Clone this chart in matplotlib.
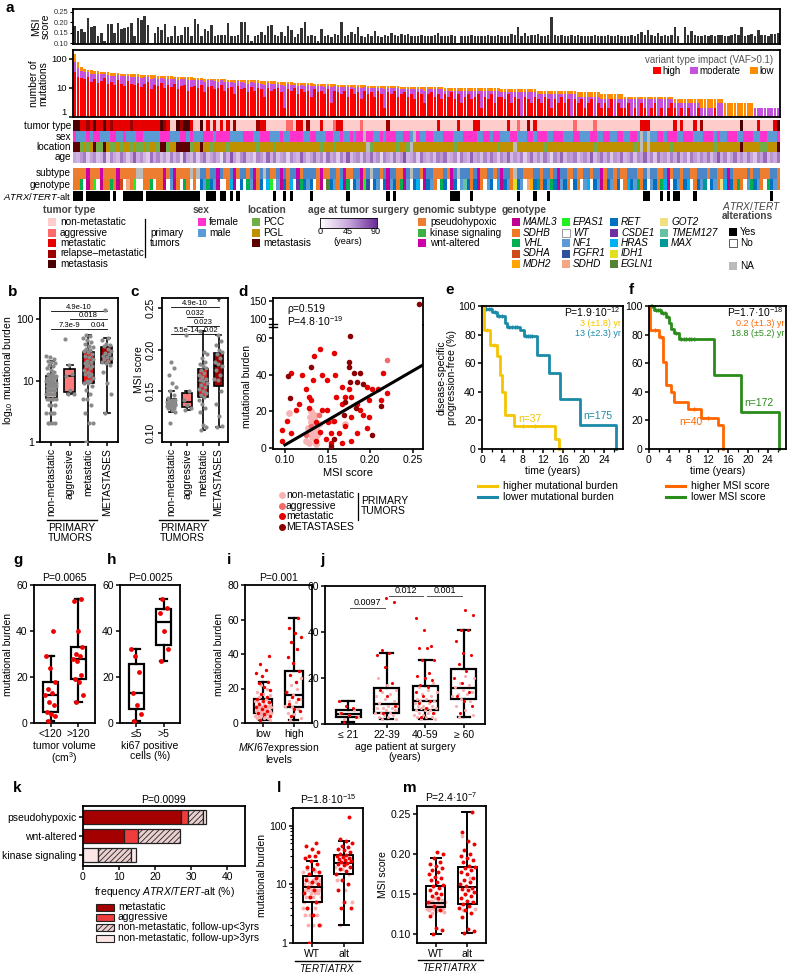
import numpy as np
import matplotlib
matplotlib.use('Agg')
import matplotlib.pyplot as plt
from matplotlib.patches import Rectangle
from matplotlib.lines import Line2D
from matplotlib.colors import LinearSegmentedColormap

plt.rcParams['font.family'] = ['Liberation Sans', 'DejaVu Sans']
plt.rcParams['mathtext.fontset'] = 'custom'
plt.rcParams['mathtext.rm'] = 'Liberation Sans'
plt.rcParams['mathtext.it'] = 'Liberation Sans:italic'
plt.rcParams['mathtext.bf'] = 'Liberation Sans:bold'
plt.rcParams['axes.linewidth'] = 1.3
plt.rcParams['xtick.major.width'] = 1.1
plt.rcParams['ytick.major.width'] = 1.1
plt.rcParams['xtick.major.size'] = 3
plt.rcParams['ytick.major.size'] = 3
plt.rcParams['xtick.major.pad'] = 1.5
plt.rcParams['ytick.major.pad'] = 1.5
plt.rcParams['hatch.linewidth'] = 0.6

# ------------------------------------------------------------------ data
# panel a (212 tumours, sorted by number of mutations)
msi_milli = [183,160,166,153,218,178,183,136,150,112, 193,192,148,198,167,173,178,196,135,218,
             210,228,187,101,149,176,165,193,132,136, 180,136,138,178,178,137,214,189,135,170,
             160,186,135,140,140,141,196,133,135,138, 203,199,140,110,136,140,155,138,182,188,
             138,135,152,135,182,165,128,145,172,200, 136,138,135,110,170,135,138,130,145,138,
             200,135,138,152,142,178,135,130,145,135, 158,137,132,140,136,150,138,135,143,138,
             145,133,136,134,138,135,137,133,139,150, 137,136,135,138,134,103,136,137,135,138,
             136,134,137,135,139,136,133,138,135,137, 136,142,138,175,137,150,136,138,140,145,
             137,135,138,222,140,136,138,135,137,139, 136,138,135,137,134,136,138,137,135,136,
             138,135,137,139,136,135,137,138,136,145, 155,140,165,138,135,150,137,140,136,138,
             175,136,102,175,138,160,140,137,136,138, 137,139,136,138,140,137,136,138,145,139,
             175,137,140,142,135,165,140,138,137,142, 145,150]
mut_high = [35,24,22,20,24,16,21,15,17,22, 14,16,13,18,14,12,17,14,13,15, 11,14,16,9,13,12,15,10,13,11,
            14,9,12,13,8,11,12,10,13,7, 11,12,9,10,13,8,10,11,6,12, 9,10,7,11,8,10,9,5,10,8,
            9,10,7,2,9,8,10,6,9,7, 8,5,9,7,8,6,9,3,8,7, 6,8,5,9,6,7,4,8,6,7, 5,8,6,2,7,6,8,5,6,7,
            5,6,4,7,6,3,6,7,5,6, 4,6,5,7,4,6,3,5,6,4, 5,6,2,5,4,6,3,5,5,4, 6,3,5,4,1,5,4,3,5,4,
            3,5,4,2,4,3,5,3,4,0, 4,3,4,2,3,4,0,3,2,3, 2,4,1,3,2,2,3,1,2,0, 3,2,0,2,3,1,2,0,2,3,
            2,1,2,0,2,0,1,2,0,0, 1,0,2,0,1,0,0,0,0,0, 0,0,0,0,0,0,0,0,0,0, 0,0]
mut_moderate = [44,26,16,15,10,14,10,14,12,8, 13,10,12,9,11,13,8,10,10,9, 11,9,7,12,9,9,7,10,8,9,
                6,10,8,7,10,8,7,8,6,9, 7,6,8,6,5,8,6,5,9,5, 7,5,7,5,7,5,5,8,5,6,
                5,4,6,10,5,5,3,6,4,5, 5,7,3,5,4,5,3,8,4,4, 5,3,6,2,4,4,6,3,4,3, 5,2,4,7,3,4,2,5,3,2,
                4,3,5,2,3,5,3,2,4,3, 5,2,3,1,4,2,5,3,2,4, 3,2,6,3,4,2,5,3,2,3, 1,4,2,3,6,2,3,4,2,2,
                3,1,2,4,2,3,1,3,2,6, 2,2,1,3,2,1,5,2,2,1, 2,0,3,1,2,2,1,3,2,4, 1,2,4,2,1,3,2,4,2,1,
                1,2,1,3,1,3,2,1,2,2, 1,2,0,3,2,0,0,0,0,0, 1,0,0,0,2,2,2,2,2,2, 2,2]
mut_low = [62,29,15,10,8,10,7,8,7,5, 7,7,8,5,6,6,5,6,6,5, 6,5,4,6,5,5,4,5,4,5, 4,5,4,3,5,4,3,4,3,5,
           3,3,3,4,2,4,3,3,4,2, 3,3,4,2,3,3,3,4,2,3, 3,2,3,4,2,3,2,3,2,3, 2,3,2,2,2,3,2,3,2,2,
           2,2,2,2,3,2,3,2,2,2, 2,2,2,3,2,2,2,2,2,2, 2,2,2,2,2,3,2,2,2,2, 2,2,2,2,2,2,2,2,2,2,
           2,2,2,2,2,2,2,2,2,2, 2,2,2,2,2,2,2,2,2,2, 2,2,2,2,2,2,2,2,2,2, 2,2,2,2,2,2,2,2,2,2,
           2,2,2,2,2,1,1,1,1,1, 1,1,1,1,1,1,1,1,1,1, 1,1,1,1,1,1,1,1,2,2, 2,2,2,1,1,3,3,3,3,3,
           2,3,3,3,0,0,0,0,0,0, 0,0]
tumor_type = ("4422324224 2322222322 2222224320 0434420040 2020202030 0000032200 0000110220 "
              "3000200012 2000001000 0000300000 0000000002 0000020000 2200000000 2001003020 "
              "0000000000 1000001000 0000000000 2220000000 2020002030 0000000000 4000020000 24")
sex = ("0111010011 1001101110 0111110001 1100101110 0010000111 1000110001 1101100001 "
       "1001110011 0110100200 1101000110 0120110011 1000111000 0110010011 1001110010 "
       "0011000111 0011100110 0110011001 2121100100 0110001110 0010110001 1000110011 10")
location = ("2201012002 1001011010 0101102201 1222201121 1011110111 1111101111 0111111111 "
            "1111011101 1111111130 1111111011 0311111111 1111011111 1111111011 1131111111 "
            "1011111111 1111110111 1111111101 3131111110 1111111111 1101111111 2111110011 12")
age_years = [45,38,52,61,29,47,55,33,40,68, 25,57,44,36,63,50,31,48,72,42, 54,39,27,66,45,58,35,49,30,60,
             41,53,22,70,46,37,59,28,51,64, 34,47,56,43,19,62,40,75,48,31, 55,67,38,44,26,58,50,35,69,42,
             61,33,47,53,24,57,45,39,71,50, 36,48,63,42,56,30,65,44,52,28, 59,41,73,37,49,55,32,60,46,67,
             43,54,21,58,47,35,62,40,51,76, 38,45,57,29,64,48,41,53,34,60, 50,66,37,44,55,26,61,47,39,70,
             46,52,33,58,42,63,49,30,56,45, 68,36,51,43,59,27,48,65,40,54, 35,62,47,23,57,44,69,38,53,49,
             60,32,46,55,41,72,37,50,64,43, 58,29,52,45,66,39,47,61,34,55, 48,70,42,57,31,63,46,51,36,59,
             44,67,40,53,28,61,49,38,56,45, 62,35,50,74,43,58,33,47,65,41, 54,39,60,46,30,57,48,68,37,52,
             44,63]
subtype = ("0000200020 0002000003 3000000201 2000030311 0112100120 1101201310 0121011201 "
           "1110200110 1200112013 1101211002 1311021100 0102131110 1200110121 1031100011 "
           "0110121100 1001101120 1101001110 0131100120 1101100111 0110012100 0010110001 10")
genotype = ("bbcwabfwab bcbadwhbfw wbbcwbbawn abwcbwbwrn crnawwbkaw rwcnabrwkf wnarbkwscr "
            "nrwbawlrnb kacwrnafgw rnwranrbca nwrkwarnbw crwarwntrb rabwnrwkar nbirnwherx "
            "brncranrbw rbwnkwrnab rnbrwbkrnc brwnrbckaw rnbrkwbrnx wrnbokarbc bwncrnbwcr nb")
atrx_tert = ("1110111111 1010011111 1011111111 1111111100 1110110101 0000000000 1001010000 "
             "0100000000 0010000000 0000101000 0000000000 0001110001 0000000000 0001000010 "
             "0010000000 0000000000 0000000000 0110001010 1100001000 0000000000 0000000001 00")

# panel b/c  (mutational burden, MSI score per group)
grp_labels = ['non-metastatic', 'aggressive', 'metastatic', 'METASTASES']
b_nonmet = [2,2,2,2,3,3,3,3,4,4,4,5,5,5,5,5,6,6,6,6,6,7,7,7,7,7,7,8,8,8,8,8,8,8,9,9,9,9,9,10,10,10,10,
            11,11,11,12,12,12,13,13,14,15,16,17,18,19,20,21,22,24,25]
b_aggr = [6,6,7,12,13,18,47]
b_met = [1,2,2,3,4,5,5,6,7,8,9,9,10,10,11,12,13,13,14,15,16,17,17,18,19,20,21,22,24,25,27,29,30,31,33,
         35,37,40,43,45,50,53,55]
b_mets = [3,6,9,14,18,19,20,21,22,23,24,25,27,28,30,33,36,38,40,45,50,140]
c_nonmet = [0.112,0.125,0.128,0.13,0.13,0.131,0.132,0.132,0.133,0.133,0.134,0.134,0.135,0.135,0.135,
            0.135,0.136,0.136,0.137,0.137,0.138,0.138,0.139,0.14,0.142,0.145,0.15,0.155,0.16,0.17,0.178,0.185]
c_aggr = [0.128,0.13,0.133,0.14,0.15,0.218]
c_met = [0.103,0.107,0.11,0.125,0.13,0.135,0.14,0.143,0.145,0.148,0.15,0.153,0.155,0.158,0.16,0.162,
         0.163,0.165,0.167,0.17,0.172,0.175,0.178,0.18,0.183,0.185,0.19,0.195,0.197,0.222]
c_mets = [0.107,0.108,0.12,0.135,0.15,0.163,0.165,0.17,0.175,0.18,0.183,0.185,0.19,0.195,0.197,0.2,
          0.205,0.21,0.218]

# panel d (MSI score vs mutational burden)
d_nonmet_x = [0.125,0.128,0.13,0.13,0.132,0.133,0.134,0.135,0.135,0.136,0.137,0.138,0.14,0.128,0.131,
              0.133,0.136,0.139,0.127,0.134,0.105,0.17,0.129,0.132]
d_nonmet_y = [4,8,10,14,6,12,16,5,18,9,11,7,13,3,20,15,2,8,11,6,19,13,17,9]
d_aggr_x = [0.125,0.13,0.14,0.22,0.155]
d_aggr_y = [7,12,18,48,15]
d_met_x = [0.141,0.157,0.134,0.107,0.120,0.144,0.125,0.128,0.117,0.102,0.107,0.097,0.096,0.136,0.148,
           0.149,0.151,0.164,0.160,0.167,0.171,0.175,0.178,0.185,0.188,0.196,0.202,0.209,0.215,0.157,
           0.171,0.178,0.185,0.167,0.136,0.141,0.144,0.149,0.159,0.196,0.192,0.220,0.213,0.199,0.167,
           0.178,0.199,0.154,0.133,0.131,0.128,0.113,0.154]
d_met_y = [54,52,50,41,40,40,32,28,24,15,8,4,10,4,5,21,14,8,28,33,28,32,28,24,21,33,32,32,41,15,
           12,4,8,3,14,9,21,37,40,11,18,30,26,26,24,17,17,3,37,26,22,21,8]
d_mets_x = [0.104,0.106,0.131,0.175,0.175,0.181,0.188,0.176,0.171,0.169,0.183,0.185,0.154,0.157,0.192,
            0.202,0.213,0.176,0.257]
d_mets_y = [39,27,44,47,44,41,41,61,25,18,22,36,1,5,35,7,23,36,140]
d_fit_slope, d_fit_intercept = 269.0, -25.2   # regression line

# panels e/f (Kaplan-Meier)
e_hi_t = [0, 0.3, 1.6, 2.9, 3.5, 3.9, 4.6, 6.2, 14.4, 15.2]
e_hi_s = [100, 83, 73, 65, 52, 40, 24, 16, 7, 0]
e_lo_t = [0, 0.5, 2.0, 3.0, 4.5, 5.0, 7.5, 8.2, 10.8, 13.1, 15.4, 19.3, 26.3]
e_lo_s = [100, 98, 96, 93, 88, 85, 83, 79, 66, 53, 35, 17, 0]
e_hi_cens = [1.0, 2.4, 8.0, 10.5]
e_lo_cens = [0.8, 1.3, 1.7, 2.5, 3.4, 3.9, 5.4, 5.9, 6.4, 6.9, 8.6, 9.0, 9.4, 9.8]
f_hi_t = [0, 0.3, 2.0, 2.8, 3.4, 4.4, 5.0, 7.9, 10.5, 14.0, 15.0]
f_hi_s = [100, 83, 78, 61, 45, 40, 33, 28, 22, 17, 0]
f_lo_t = [0, 1.0, 2.5, 3.5, 4.0, 4.5, 5.0, 6.0, 13.2, 18.7, 26.3]
f_lo_s = [100, 97, 95, 92, 88, 84, 81, 77, 52, 26, 0]
f_hi_cens = [1.2, 2.4, 9.0, 12.0]
f_lo_cens = [0.4, 0.7, 1.4, 1.8, 2.2, 2.9, 3.2, 3.8, 5.5, 6.5, 7.0, 7.5, 8.0, 8.5, 9.0]

# panels g/h
g_lo = [1,3,4,5,8,9,12,13,15,18,24,29,40]
g_hi = [9,12,18,19,21,27,28,29,30,33,40,53,54]
h_lo = [1,4,8,13,22,29,32]
h_hi = [27,32,40,48,50,54]
# panel i
i_low_pink = [2,2,3,3,3,4,4,4,4,5,5,5,5,6,6,6,6,6,7,7,7,7,7,8,8,8,8,9,9,9,9,9,10,10,10,11,11,12,12,13,
              13,14,15,16,17,18,20,22]
i_low_red = [2,4,5,6,7,8,9,10,11,12,13,14,15,17,19,21,23,24,27,29,31,34,39]
i_high_pink = [2,3,5,6,8,9,10,12,13,14,16,18,20,22,26]
i_high_red = [4,7,8,11,14,15,18,24,28,30,35,38,43,47,50,52,55,61]
# panel j
j_pink = [[2,3,4,5,6],
          [2,2,3,3,4,4,5,5,5,6,6,7,7,7,8,8,9,10,11,12,13,14,15,17,20],
          [2,2,3,3,3,4,4,5,5,5,6,6,6,7,7,7,8,8,8,9,9,10,10,11,11,12,13,14,15,16,18],
          [3,4,6,8,10,11,12,13,13,14,15,16,17,18,20,21]]
j_red = [[1,3,4,5,7,8,10],
         [5,8,12,15,18,25,30,31,32,53,55],
         [3,5,7,9,10,12,14,16,17,19,20,21,22,28,28,33,33,34,41,46],
         [5,8,10,12,14,18,20,23,26,30,31,36,41,41,47.5,49.5]]
j_labels = ['≤ 21', '22-39', '40-59', '≥ 60']
# panel k
k_cats = ['pseudohypoxic', 'wnt-altered', 'kinase signaling']
k_segments = [[('met', 27.3), ('aggr', 2.0), ('lt3', 4.0), ('gt3', 1.0)],
              [('met', 11.3), ('aggr', 4.0), ('lt3', 11.7)],
              [('gt3', 4.3), ('lt3', 9.0), ('gt3', 1.4)]]
# panel l
l_wt_pink = [2,2,2,3,3,3,4,4,4,5,5,5,5,6,6,6,6,7,7,7,7,8,8,8,8,8,9,9,9,9,10,10,10,11,11,12,12,13,14,15,16,17,18]
l_wt_red = [1,2,3,4,5,6,7,8,9,10,11,12,13,15,16,18,20,22,25,28,30,30,35,40,45,50]
l_alt_pink = [2,5,8,12,15,18,20,22,25,28]
l_alt_red = [4,4,5,8,10,12,15,17,18,20,21,22,23,24,25,26,27,28,29,30,32,33,35,38,40,43,45,50,55,60,140]
# panel m
m_wt_pink = [0.127,0.128,0.129,0.13,0.13,0.131,0.132,0.132,0.133,0.133,0.134,0.134,0.135,0.135,0.135,0.136,
             0.136,0.136,0.137,0.137,0.137,0.138,0.138,0.138,0.139,0.139,0.14,0.14,0.141,0.142,0.143,0.145]
m_wt_red = [0.10,0.105,0.108,0.123,0.13,0.135,0.14,0.145,0.148,0.15,0.152,0.155,0.158,0.16,0.162,0.165,
            0.168,0.17,0.172,0.175,0.178,0.18,0.182,0.185,0.187,0.19,0.195,0.2,0.203]
m_alt_pink = [0.13,0.132,0.135,0.138,0.14,0.15,0.16,0.17,0.222]
m_alt_red = [0.102,0.104,0.107,0.122,0.127,0.13,0.133,0.135,0.138,0.14,0.142,0.145,0.148,0.15,0.153,0.155,
             0.156,0.158,0.16,0.163,0.165,0.168,0.17,0.175,0.178,0.18,0.182,0.184,0.185,0.19,0.192,0.195,
             0.198,0.2,0.205,0.212,0.216,0.228,0.253]

# ------------------------------------------------------------------ styles
TT_COL = ['#FFCCCC', '#FF6B6B', '#E60000', '#9E0000', '#4A0000']
SEX_COL = ['#FF33CC', '#5B9BD5', '#BBBBBB']
LOC_COL = ['#70AD47', '#BF9000', '#5C0000', '#BBBBBB']
SUB_COL = ['#ED7D31', '#4A86C8', '#CC00AA', '#BBBBBB']
GENO = {'a': ('MAML3', '#C0008F'), 'b': ('SDHB', '#F07A24'), 'c': ('VHL', '#00B050'),
        'd': ('SDHA', '#CF4A1A'), 'e': ('MDH2', '#FFA500'), 'f': ('EPAS1', '#22EE22'),
        'w': ('WT', '#FFFFFF'), 'n': ('NF1', '#5B9BD5'), 'g': ('FGFR1', '#2F4F9F'),
        'h': ('SDHD', '#F4A582'), 'r': ('RET', '#0070C0'), 's': ('CSDE1', '#7030A0'),
        'k': ('HRAS', '#00B0F0'), 'i': ('IDH1', '#E0E020'), 'l': ('EGLN1', '#548235'),
        'o': ('GOT2', '#F0E080'), 't': ('TMEM127', '#66C2A5'), 'x': ('MAX', '#009999')}
HIGH, MOD, LOW = '#FF0000', '#C452DC', '#FF8C00'

W, H = 792, 974
fig = plt.figure(figsize=(W / 100, H / 100), dpi=100)


def axpx(x0, y0, x1, y1):
    return fig.add_axes([x0 / W, 1 - y1 / H, (x1 - x0) / W, (y1 - y0) / H])


def T(x, y, s, **kw):
    kw.setdefault('va', 'center')
    kw.setdefault('fontsize', 7)
    return fig.text(x / W, 1 - y / H, s, **kw)


def R(x, y, w, h, fc, ec='none', lw=0.6, hatch=None):
    fig.add_artist(Rectangle((x / W, 1 - (y + h) / H), w / W, h / H, transform=fig.transFigure,
                             facecolor=fc, edgecolor=ec, lw=lw, hatch=hatch))


def L(xs, ys, **kw):
    fig.add_artist(Line2D([x / W for x in xs], [1 - y / H for y in ys], transform=fig.transFigure, **kw))


def jit(n, w):
    return ((np.arange(n) * 0.618034 + 0.3) % 1.0 - 0.5) * w


def boxes(ax, groups, pos, fcs, width, lw=1.2):
    bp = ax.boxplot(groups, positions=pos, widths=width, patch_artist=True, showfliers=False,
                    medianprops=dict(color='k', lw=lw), boxprops=dict(lw=lw, color='k'),
                    whiskerprops=dict(lw=lw, color='k'), capprops=dict(lw=lw, color='k'),
                    manage_ticks=False)
    for p, c in zip(bp['boxes'], fcs):
        p.set_facecolor(c)
        p.set_zorder(2)
    return bp


def codes(s):
    return list(s.replace(' ', ''))


# ------------------------------------------------------------------ panel a
msi_score = np.array(msi_milli) / 1000.0
N = len(msi_score)
idx = np.arange(N)
tt = [int(c) for c in codes(tumor_type)]
sx = [int(c) for c in codes(sex)]
lc = [int(c) for c in codes(location)]
st = [int(c) for c in codes(subtype)]
gt = codes(genotype)
at = [int(c) for c in codes(atrx_tert)]

T(5, 8, 'a', fontsize=11, fontweight='bold')
ax = axpx(73, 9, 780, 44)
ax.bar(idx, msi_score, width=0.72, color='#333333', linewidth=0)
ax.set_xlim(-0.5, N - 0.5)
ax.set_ylim(0.097, 0.262)
ax.set_yticks([0.10, 0.15, 0.20, 0.25])
ax.set_yticklabels(['0.10', '0.15', '0.20', '0.25'], fontsize=5.5, color='#333')
ax.set_xticks([])
ax.tick_params(axis='y', length=2, width=0.8)
ax.set_ylabel('MSI\nscore', fontsize=7.5, labelpad=2, linespacing=0.9)

ax = axpx(73, 50, 780, 117)
hm = np.array(mut_high) + np.array(mut_moderate)
tot = hm + np.array(mut_low)
ax.bar(idx, tot, width=0.8, color=LOW, linewidth=0)
ax.bar(idx, hm, width=0.8, color=MOD, linewidth=0)
ax.bar(idx, mut_high, width=0.8, color=HIGH, linewidth=0)
ax.set_yscale('log')
ax.set_ylim(1, 200)
ax.set_xlim(-0.5, N - 0.5)
ax.set_xticks([])
ax.set_yticks([1, 10, 100])
ax.set_yticklabels(['1', '10', '100'], fontsize=6.8)
ax.get_yticklabels()[0].set_va('bottom')
ax.minorticks_off()
ax.tick_params(axis='x', which='both', length=0)
ax.set_ylabel('number of\nmutations', fontsize=7.5, labelpad=2, linespacing=0.9)
T(773, 60, 'variant type impact (VAF>0.1)', ha='right', fontsize=7, color='#555555')
for x0, lab, col in [(653, 'high', HIGH), (690, 'moderate', MOD), (750, 'low', LOW)]:
    R(x0, 67, 8, 7, col)
    T(x0 + 9, 70.5, lab, fontsize=7)


def track(y0, y1, colors, label, fs=7.2, dy=0.0):
    a = axpx(73, y0, 780, y1)
    a.bar(idx, np.ones(N), width=1.0, color=colors, linewidth=0)
    a.set_xlim(-0.5, N - 0.5)
    a.set_ylim(0, 1)
    a.axis('off')
    T(71, (y0 + y1) / 2 + dy, label, ha='right', fontsize=fs)
    return a


track(120, 131, [TT_COL[c] for c in tt], 'tumor type', dy=0.8)
track(131, 142, [SEX_COL[c] for c in sx], 'sex')
track(142, 152, [LOC_COL[c] for c in lc], 'location')
age_cmap = LinearSegmentedColormap.from_list('age', ['#FFFFFF', '#C8A8DC', '#6A2C9A'])
a = axpx(73, 152, 780, 163)
a.imshow(np.array(age_years)[None, :], aspect='auto', cmap=age_cmap, vmin=0, vmax=90,
         extent=(-0.5, N - 0.5, 0, 1), interpolation='nearest')
a.axis('off')
T(71, 157.5, 'age', ha='right', fontsize=7.2)
track(168, 179, [SUB_COL[c] for c in st], 'subtype')
track(179, 190, [GENO[c][1] for c in gt], 'genotype')
track(191, 201, ['#000000' if c else '#FFFFFF' for c in at], r'$\it{ATRX/TERT}$-alt', fs=6.8)

# legends of panel a
TIT = dict(fontsize=7.3, fontweight='bold', color='#444444')
rows = [222, 232.5, 243, 253.5, 264]
T(43, 210, 'tumor type', **TIT)
for y, lab, col in zip(rows, ['non-metastatic', 'aggressive', 'metastatic', 'relapse\u2013metastatic', 'metastasis'], TT_COL):
    R(48, y - 4, 8, 8, col)
    T(60, y, lab, fontsize=7.2)
L([145, 145], [219, 257], color='k', lw=0.9)
T(150, 238, 'primary\ntumors', fontsize=7.2, linespacing=1.0)
T(193, 210, 'sex', **TIT)
for y, lab, col in zip(rows, ['female', 'male'], SEX_COL):
    R(198, y - 4, 8, 8, col)
    T(209, y, lab, fontsize=7.2)
T(247, 210, 'location', **TIT)
for y, lab, col in zip(rows, ['PCC', 'PGL', 'metastasis'], LOC_COL):
    R(252, y - 4, 8, 8, col)
    T(263, y, lab, fontsize=7.2)
T(308, 210, 'age at tumor surgery', **TIT)
cax = axpx(320, 218, 377, 228)
cax.imshow(np.linspace(0, 90, 100)[None, :], aspect='auto', cmap=age_cmap, extent=(0, 90, 0, 1))
cax.set_xticks([])
cax.set_yticks([])
for s in cax.spines.values():
    s.set_linewidth(0.6)
for xv, lab in [(320, '0'), (348, '45'), (376, '90')]:
    T(xv, 232, lab, ha='center', fontsize=6.6)
T(348, 241.5, '(years)', ha='center', fontsize=6.6)
T(413, 210, 'genomic subtype', **TIT)
for y, lab, col in zip(rows, ['pseudohypoxic', 'kinase signaling', 'wnt-altered'], ['#ED7D31', '#3CB043', '#CC00AA']):
    R(418, y - 4, 8, 8, col)
    T(430, y, lab, fontsize=7.2)
T(502, 210, 'genotype', **TIT)
geno_cols = [['a', 'b', 'c', 'd', 'e'], ['f', 'w', 'n', 'g', 'h'], ['r', 's', 'k', 'i', 'l'], ['o', 't', 'x']]
for xc, col_keys in zip([512, 562, 610, 660], geno_cols):
    for y, key in zip(rows, col_keys):
        name, col = GENO[key]
        R(xc, y - 4, 8, 8, col, ec='#888888' if key == 'w' else 'none', lw=0.6)
        T(xc + 11, y, name, fontsize=7.2, style='italic')
T(722, 206, r'$\it{ATRX/TERT}$', **TIT)
T(722, 216, 'alterations', **TIT)
R(729, 228, 8, 8, '#000000')
T(740, 232, 'Yes', fontsize=7.2)
R(729, 239, 8, 8, '#FFFFFF', ec='#444444', lw=0.6)
T(740, 243, 'No', fontsize=7.2)
R(729, 262, 8, 8, '#BBBBBB')
T(740, 266, 'NA', fontsize=7.2)

# ------------------------------------------------------------------ panel b
GRP_COL = ['#FFCCCC', '#FF7B7B', '#EE1111', '#9E0000']
T(8, 292, 'b', fontsize=11, fontweight='bold')
ax = axpx(40, 298, 118, 442)
bgroups = [b_nonmet, b_aggr, b_met, b_mets]
boxes(ax, bgroups, [1, 2, 3, 4], GRP_COL, 0.6)
for k, g in enumerate(bgroups):
    ax.scatter(k + 1 + jit(len(g), 0.55), g, s=9, color='#8A8A8A', lw=0, zorder=3)
ax.set_yscale('log')
ax.set_ylim(1, 220)
ax.set_xlim(0.4, 4.6)
ax.set_yticks([1, 10, 100])
ax.set_yticklabels(['1', '10', '100'], fontsize=7.5)
ax.minorticks_off()
ax.set_xticks([1, 2, 3, 4])
ax.set_xticklabels(grp_labels, rotation=90, fontsize=7.5)
ax.set_ylabel(r'log$_{10}$ mutational burden', fontsize=7.5, labelpad=1)


def bracket(ax, x0, x1, y, text, fs=5.5):
    ax.plot([x0, x1], [y, y], color='k', lw=0.6, clip_on=False)
    ax.text((x0 + x1) / 2, y, text, ha='center', va='bottom', fontsize=fs)


bracket(ax, 1, 4, 135, '4.9e-10')
bracket(ax, 2, 4, 100, '0.018')
bracket(ax, 1, 3, 69, '7.3e-9')
bracket(ax, 3, 4, 69, '0.04')
L([47, 97], [520, 520], color='k', lw=1.0)
T(48, 533, 'PRIMARY\nTUMORS', fontsize=7.5, linespacing=1.0)

# ------------------------------------------------------------------ panel c
T(130, 292, 'c', fontsize=11, fontweight='bold')
ax = axpx(162, 298, 228, 442)
cgroups = [c_nonmet, c_aggr, c_met, c_mets]
boxes(ax, cgroups, [1, 2, 3, 4], GRP_COL, 0.6)
for k, g in enumerate(cgroups):
    ax.scatter(k + 1 + jit(len(g), 0.55), g, s=9, color='#8A8A8A', lw=0, zorder=3)
ax.set_ylim(0.089, 0.262)
ax.set_xlim(0.4, 4.6)
ax.set_yticks([0.10, 0.15, 0.20, 0.25])
ax.set_yticklabels(['0.10', '0.15', '0.20', '0.25'], fontsize=7.5, rotation=90, va='center')
ax.set_xticks([1, 2, 3, 4])
ax.set_xticklabels(grp_labels, rotation=90, fontsize=7.5)
ax.set_ylabel('MSI score', fontsize=7.5, labelpad=1)
bracket(ax, 1, 4, 0.2512, '4.9e-10')
bracket(ax, 2, 3, 0.239, '0.032')
bracket(ax, 2, 4, 0.228, '0.023')
bracket(ax, 1, 3, 0.2185, '5.5e-14')
bracket(ax, 3.1, 4, 0.2185, '0.02')
ax.text(4, 0.257, '*', ha='center', va='center', fontsize=7)
L([159, 208], [520, 520], color='k', lw=1.0)
T(160, 533, 'PRIMARY\nTUMORS', fontsize=7.5, linespacing=1.0)

# ------------------------------------------------------------------ panel d
T(238, 292, 'd', fontsize=11, fontweight='bold')
D_COL = ['#F8B4B4', '#F46A6A', '#E60000', '#8B0000']
dsets = [(d_nonmet_x, d_nonmet_y, 24), (d_aggr_x, d_aggr_y, 16), (d_met_x, d_met_y, 16), (d_mets_x, d_mets_y, 16)]
ax_top = axpx(273, 298, 423, 325)
ax_d = axpx(273, 325, 423, 449)
for a_ in (ax_top, ax_d):
    for (xs, ys, sz), col in zip(dsets, D_COL):
        a_.scatter(xs, ys, s=sz, color=col, lw=0, zorder=3)
    a_.set_xlim(0.086, 0.262)
ax_top.set_ylim(83, 157)
ax_top.set_yticks([100, 150])
ax_top.set_yticklabels(['100', '150'], fontsize=7.5)
ax_top.set_xticks([])
ax_top.spines['bottom'].set_visible(False)
ax_d.spines['top'].set_visible(False)
ax_d.set_ylim(-0.5, 67)
ax_d.set_yticks([0, 20, 40, 60])
ax_d.set_yticklabels(['0', '20', '40', '60'], fontsize=7.5)
ax_d.set_xticks([0.10, 0.15, 0.20, 0.25])
ax_d.set_xticklabels(['0.10', '0.15', '0.20', '0.25'], fontsize=7.5)
ax_d.set_xlabel('MSI score', fontsize=8, labelpad=2)
ax_d.set_ylabel('mutational burden', fontsize=7.5, labelpad=2)
xl = np.array([0.10, 0.262])
ax_d.plot(xl, d_fit_slope * xl + d_fit_intercept, color='k', lw=2.2, zorder=4)
L([269, 277], [323.5, 323.5], color='k', lw=1.0)
L([269, 277], [327, 327], color='k', lw=1.0)
T(287, 309, 'ρ=0.519', fontsize=7.5)
T(287, 321, r'P=4.8·10$^{-19}$', fontsize=7.5)
for y, lab, col in zip([495, 505.5, 516, 527], ['non-metastatic', 'aggressive', 'metastatic', 'METASTASES'], D_COL):
    fig.add_artist(Line2D([282 / W], [1 - y / H], marker='o', markersize=4, color=col, lw=0,
                          transform=fig.transFigure))
    T(286, y, lab, fontsize=7.5)
L([358, 358], [493, 520], color='k', lw=0.9)
T(361, 506, 'PRIMARY\nTUMORS', fontsize=7.5, linespacing=1.1)


# ------------------------------------------------------------------ panels e / f
def km(ax, curves, ptxt, med1, med2, n1, n2, legend, lx):
    for t, s, col, cens in curves:
        ax.step(t, s, where='post', color=col, lw=2.0, clip_on=False)
        pos = np.searchsorted(t, cens, side='right') - 1
        ax.plot(cens, np.array(s)[pos], ls='none', marker='|', ms=3.5, mew=1.0, color=col, clip_on=False)
    ax.set_xlim(0, 27.7)
    ax.set_ylim(0, 100)
    ax.set_xticks(range(0, 25, 4))
    ax.set_xticks(range(2, 27, 4), minor=True)
    ax.set_xticklabels([str(v) for v in range(0, 25, 4)], fontsize=7.5)
    ax.set_yticks(range(0, 101, 20))
    ax.set_yticklabels([str(v) for v in range(0, 101, 20)], fontsize=7.5)
    ax.tick_params(axis='x', which='minor', length=2, width=0.9)
    ax.set_xlabel('time (years)', fontsize=7.5, labelpad=0.5)
    ax.text(0.985, 0.955, ptxt, transform=ax.transAxes, ha='right', va='center', fontsize=7.5)
    ax.text(0.985, 0.875, med1[0], transform=ax.transAxes, ha='right', va='center', fontsize=6.5, color=med1[1])
    ax.text(0.985, 0.805, med2[0], transform=ax.transAxes, ha='right', va='center', fontsize=6.5, color=med2[1])
    ax.text(n1[0], n1[1], n1[2], ha='center', va='center', fontsize=7.5, color=n1[3])
    ax.text(n2[0], n2[1], n2[2], ha='center', va='center', fontsize=7.5, color=n2[3])
    for y, (lab, col) in zip([486, 497], legend):
        L([lx, lx + 19], [y, y], color=col, lw=2.2)
        T(lx + 25, y, lab, fontsize=7.5)


YEL, TEAL, ORG, GRN = '#F5C400', '#1B8AA8', '#FF6600', '#2A8C1A'
T(445, 290, 'e', fontsize=11, fontweight='bold')
ax = axpx(482, 306, 623, 449)
km(ax, [(e_lo_t, e_lo_s, TEAL, e_lo_cens), (e_hi_t, e_hi_s, YEL, e_hi_cens)], r'P=1.9·10$^{-12}$',
   ('3 (±1.8) yr', YEL), ('13 (±2.3) yr', TEAL), (9.5, 21, 'n=37', YEL), (22.8, 23, 'n=175', TEAL),
   [('higher mutational burden', YEL), ('lower mutational burden', TEAL)], 478)
ax.set_ylabel('disease-specific\nprogression-free (%)', fontsize=7.5, labelpad=1, linespacing=1.0)
T(629, 290, 'f', fontsize=11, fontweight='bold')
ax = axpx(649, 306, 786, 449)
km(ax, [(f_lo_t, f_lo_s, GRN, f_lo_cens), (f_hi_t, f_hi_s, ORG, f_hi_cens)], r'P=1.7·10$^{-18}$',
   ('0.2 (±1.3) yr', ORG), ('18.8 (±5.2) yr', GRN), (8.5, 19, 'n=40', ORG), (22.2, 32, 'n=172', GRN),
   [('higher MSI score', ORG), ('lower MSI score', GRN)], 666)


# ------------------------------------------------------------------ panels g, h, i, j
def simple_box(ax, groups, fcs=None, width=0.55, ylim=(0, 60), yt=(0, 20, 40, 60)):
    boxes(ax, groups, list(range(1, len(groups) + 1)), fcs or ['none'] * len(groups), width, lw=1.6)
    ax.set_ylim(*ylim)
    ax.set_yticks(yt)
    ax.set_yticklabels([str(v) for v in yt], fontsize=7.5)


T(13, 560, 'g', fontsize=11, fontweight='bold')
ax = axpx(34, 585, 95, 723)
simple_box(ax, [g_lo, g_hi])
for k, g in enumerate([g_lo, g_hi]):
    ax.scatter(k + 1 + jit(len(g), 0.4), g, s=12, color='#F00000', lw=0, zorder=3)
ax.set_xlim(0.4, 2.6)
ax.set_xticks([1, 2])
ax.set_xticklabels(['<120', '>120'], fontsize=7.5)
ax.set_xlabel('tumor volume\n(cm$^3$)', fontsize=7.5, labelpad=1, linespacing=1.0)
ax.set_ylabel('mutational burden', fontsize=7.5, labelpad=2)
ax.set_title('P=0.0065', fontsize=7.5, pad=3)

T(107, 560, 'h', fontsize=11, fontweight='bold')
ax = axpx(120, 585, 180, 723)
simple_box(ax, [h_lo, h_hi])
for k, g in enumerate([h_lo, h_hi]):
    ax.scatter(k + 1 + jit(len(g), 0.4), g, s=12, color='#F00000', lw=0, zorder=3)
ax.set_xlim(0.4, 2.6)
ax.set_xticks([1, 2])
ax.set_xticklabels(['≤5', '>5'], fontsize=7.5)
ax.set_xlabel('ki67 positive\ncells (%)', fontsize=7.5, labelpad=1, linespacing=1.0)
ax.set_title('P=0.0025', fontsize=7.5, pad=3)

T(227, 560, 'i', fontsize=11, fontweight='bold')
ax = axpx(245, 585, 312, 723)
simple_box(ax, [i_low_pink + i_low_red, i_high_pink + i_high_red], ylim=(0, 80), yt=(0, 20, 40, 60, 80), width=0.6)
for k, (gp, gr) in enumerate([(i_low_pink, i_low_red), (i_high_pink, i_high_red)]):
    ax.scatter(k + 1 + jit(len(gp), 0.55), gp, s=6, color='#F9AFAF', lw=0, zorder=3)
    ax.scatter(k + 1 + jit(len(gr), 0.55) * 0.9, gr, s=6, color='#EE0000', lw=0, zorder=3)
ax.set_xlim(0.4, 2.6)
ax.set_xticks([1, 2])
ax.set_xticklabels(['low', 'high'], fontsize=7.5)
ax.set_xlabel('$\\it{MKI67}$expression\nlevels', fontsize=7.5, labelpad=1, linespacing=1.0)
ax.set_ylabel('mutational burden', fontsize=7.5, labelpad=2)
ax.set_title('P=0.001', fontsize=7.5, pad=3)

T(320, 560, 'j', fontsize=11, fontweight='bold')
ax = axpx(325, 586, 485, 724)
simple_box(ax, [p + r for p, r in zip(j_pink, j_red)], width=0.65)
for k in range(4):
    ax.scatter(k + 1 + jit(len(j_pink[k]), 0.6), j_pink[k], s=5, color='#F9AFAF', lw=0, zorder=3)
    ax.scatter(k + 1 + jit(len(j_red[k]), 0.5), j_red[k], s=5, color='#EE0000', lw=0, zorder=3)
ax.set_xlim(0.4, 4.55)
ax.set_xticks([1, 2, 3, 4])
ax.set_xticklabels(j_labels, fontsize=7.5)
ax.set_xlabel('age patient at surgery\n(years)', fontsize=7.5, labelpad=1, linespacing=1.0)
for x0, x1, y, txt in [(1.05, 1.95, 50.5, '0.0097'), (2.05, 2.95, 55.5, '0.012'), (3.05, 3.95, 55.5, '0.001')]:
    ax.plot([x0, x1], [y, y], color='#555555', lw=0.7)
    ax.text((x0 + x1) / 2, y + 0.5, txt, ha='center', va='bottom', fontsize=6.5)

# ------------------------------------------------------------------ panel k
T(13, 788, 'k', fontsize=11, fontweight='bold')
K_STY = {'met': ('#A50000', None), 'aggr': ('#F03C3C', None), 'lt3': ('#EBD0D0', '//////'),
         'gt3': ('#FCE6E6', None)}
ax = axpx(83, 806, 245, 866)
for yi, segs in enumerate(k_segments):
    left = 0
    for kind, val in segs:
        fc, hatch = K_STY[kind]
        ax.barh(yi, val, left=left, height=0.72, color=fc, edgecolor='#222222', lw=0.9, hatch=hatch)
        left += val
ax.set_ylim(2.55, -0.55)
ax.set_xlim(0, 45)
ax.set_yticks([0, 1, 2])
ax.set_yticklabels(k_cats, fontsize=7.5)
ax.set_xticks([0, 10, 20, 30, 40])
ax.set_xticklabels(['0', '10', '20', '30', '40'], fontsize=7.5)
ax.set_xlabel('frequency $\\it{ATRX/TERT}$-alt (%)', fontsize=7.5, labelpad=2)
ax.set_title('P=0.0099', fontsize=7.5, pad=2)
for y, kind, lab in zip([907, 917.5, 927.5, 938], ['met', 'aggr', 'lt3', 'gt3'],
                        ['metastatic', 'aggressive', 'non-metastatic, follow-up<3yrs', 'non-metastatic, follow-up>3yrs']):
    fc, hatch = K_STY[kind]
    R(96, y - 3.5, 18, 7, fc, ec='#222222', lw=0.8, hatch=hatch)
    T(118, y, lab, fontsize=7.5)

# ------------------------------------------------------------------ panel l
T(277, 788, 'l', fontsize=11, fontweight='bold')
ax = axpx(293, 808, 363, 943)
boxes(ax, [l_wt_pink + l_wt_red, l_alt_pink + l_alt_red], [1, 2], ['none', 'none'], 0.6, lw=1.4)
for k, (gp, gr) in enumerate([(l_wt_pink, l_wt_red), (l_alt_pink, l_alt_red)]):
    ax.scatter(k + 1 + jit(len(gp), 0.6), gp, s=8, color='#F9AFAF', lw=0, zorder=1)
    ax.scatter(k + 1 + jit(len(gr), 0.5), gr, s=8, color='#EE0000', lw=0, zorder=3)
ax.set_yscale('log')
ax.set_ylim(1, 200)
ax.set_xlim(0.4, 2.6)
ax.set_yticks([1, 10, 100])
ax.set_yticklabels(['1', '10', '100'], fontsize=7.5)
ax.tick_params(axis='y', which='minor', length=2, width=0.8)
ax.set_xticks([1, 2])
ax.set_xticklabels(['WT', 'alt'], fontsize=7.5)
ax.set_ylabel('mutational burden', fontsize=7.5, labelpad=2)
ax.set_title(r'P=1.8·10$^{-15}$', fontsize=7.5, pad=3)
L([295, 360], [961, 961], color='k', lw=1.0)
T(327, 967.5, r'$\it{TERT/ATRX}$', ha='center', fontsize=7)

# ------------------------------------------------------------------ panel m
T(403, 788, 'm', fontsize=11, fontweight='bold')
ax = axpx(417, 806, 486, 943)
boxes(ax, [m_wt_pink + m_wt_red, m_alt_pink + m_alt_red], [1, 2], ['none', 'none'], 0.6, lw=1.4)
for k, (gp, gr) in enumerate([(m_wt_pink, m_wt_red), (m_alt_pink, m_alt_red)]):
    ax.scatter(k + 1 + jit(len(gp), 0.6), gp, s=8, color='#F9AFAF', lw=0, zorder=1)
    ax.scatter(k + 1 + jit(len(gr), 0.5), gr, s=8, color='#EE0000', lw=0, zorder=3)
ax.set_ylim(0.089, 0.26)
ax.set_xlim(0.4, 2.6)
ax.set_yticks([0.10, 0.15, 0.20, 0.25])
ax.set_yticklabels(['0.10', '0.15', '0.20', '0.25'], fontsize=7.5)
ax.set_xticks([1, 2])
ax.set_xticklabels(['WT', 'alt'], fontsize=7.5)
ax.set_ylabel('MSI score', fontsize=7.5, labelpad=2)
ax.set_title(r'P=2.4·10$^{-7}$', fontsize=7.5, pad=3)
L([418, 483], [960, 960], color='k', lw=1.0)
T(450, 967, r'$\it{TERT/ATRX}$', ha='center', fontsize=7)

fig.savefig('out.png', dpi=100)
